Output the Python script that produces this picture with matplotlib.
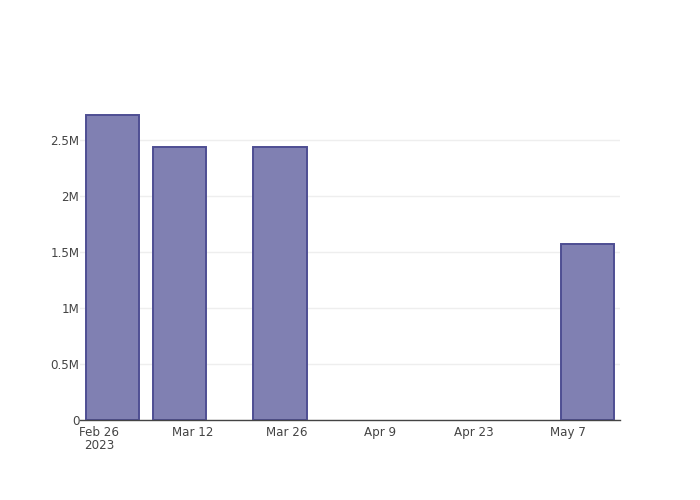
import numpy as np
import pandas as pd
import matplotlib
matplotlib.use("Agg")
import matplotlib.pyplot as plt
import matplotlib.dates as mdates
from matplotlib.ticker import FixedLocator, FuncFormatter

# weekly-ish totals
dates = pd.to_datetime(["2023-02-28", "2023-03-10", "2023-03-25", "2023-05-10"])
values = [2720000, 2437000, 2437000, 1571000]

tick_dates = pd.to_datetime(["2023-02-26", "2023-03-12", "2023-03-26",
                             "2023-04-09", "2023-04-23", "2023-05-07"])
tick_labels = ["Feb 26\n2023", "Mar 12", "Mar 26", "Apr 9", "Apr 23", "May 7"]
y_ticks = [0, 500000, 1000000, 1500000, 2000000, 2500000]

plt.rcParams['font.family'] = ['DejaVu Sans']

fig = plt.figure(figsize=(7, 5), dpi=100)
ax = fig.add_axes([80 / 700, 80 / 500, 540 / 700, 320 / 500])

bar_width = 8  # days
ax.bar(dates, values, width=bar_width, color='#8080b2', edgecolor='#4e4e93',
       linewidth=1.4, zorder=3)

pad = pd.Timedelta(days=bar_width / 2 + 0.85)
ax.set_xlim(dates[0] - pad, dates[-1] + pad)
ax.set_ylim(0, max(values) * 1.05)

ax.xaxis.set_major_locator(FixedLocator(mdates.date2num(tick_dates)))
ax.set_xticklabels(tick_labels, linespacing=1.05)
ax.yaxis.set_major_locator(FixedLocator(y_ticks))


def fmt_m(v, pos):
    if v == 0:
        return "0"
    s = f"{v / 1e6:g}"
    return s + "M"


ax.yaxis.set_major_formatter(FuncFormatter(fmt_m))

ax.grid(axis='y', color='#eeeeee', linewidth=1, zorder=0)
ax.tick_params(axis='both', length=0, labelsize=8.6, colors='#444444')
ax.tick_params(axis='x', pad=4)
ax.tick_params(axis='y', pad=0.5)
for side in ['top', 'right', 'left']:
    ax.spines[side].set_visible(False)
ax.spines['bottom'].set_color('#444444')
ax.spines['bottom'].set_linewidth(1)
ax.spines['bottom'].set_zorder(4)

fig.savefig("out.png", dpi=100)
